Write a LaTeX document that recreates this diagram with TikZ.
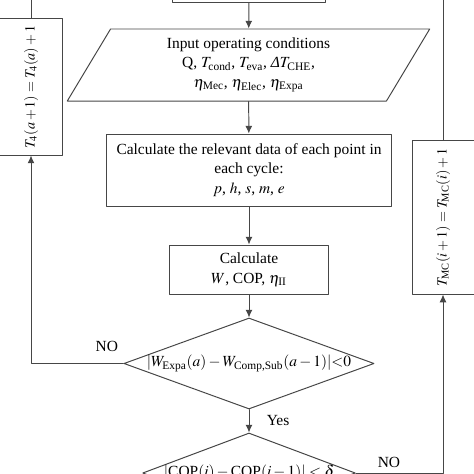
\documentclass[tikz,border=0pt]{standalone}
\usepackage{amsmath}
\usepackage{mathptmx}
\usepackage{fontspec}
\setmainfont{Liberation Serif}
\usetikzlibrary{arrows.meta, shapes.geometric}
\definecolor{linegray}{RGB}{70,70,70}

\begin{document}
\begin{tikzpicture}[x=0.025cm, y=-0.025cm, >={Latex[length=5.5pt,width=5pt]},
	line cap=round, line join=round, font=\fontsize{11}{14}\selectfont,
	flow/.style={draw=linegray, line width=0.7pt, ->},
	link/.style={draw=linegray, line width=0.7pt},
	procbox/.style={draw=linegray, line width=0.7pt, align=center, inner sep=0pt},
	iobox/.style={procbox, trapezium, trapezium left angle=65, trapezium right angle=115, trapezium stretches=true},
	testbox/.style={procbox, diamond, aspect=2.75}]
\useasboundingbox (0,0) rectangle (474,474);
%========================
% main column
%========================
\node[procbox, minimum width=3.8cm, minimum height=1.05cm] (start) at (249,-19) {};
\node[iobox, minimum width=9.075cm, minimum height=1.8cm] (input) at (248.5,65)
	{Input operating conditions\\
	Q, $T_{\text{cond}}$, $T_{\text{eva}}$, \textit{Δ}$T_{\text{CHE}}$,\\
	$\eta_{\text{Mec}}$, $\eta_{\text{Elec}}$, $\eta_{\text{Expa}}$};
\node[procbox, minimum width=7.1cm, minimum height=1.8cm] (calc) at (249,170)
	{Calculate the relevant data of each point in\\ each cycle:\\ $p$, $h$, $s$, $m$, $e$};
\node[procbox, minimum width=3.95cm, minimum height=1.225cm] (calcw) at (249,269.5)
	{Calculate\\ $W$, COP, $\eta_{\text{II}}$};
\node[testbox, minimum width=6.25cm, minimum height=2.275cm] (wcheck) at (249,363.5)
	{$|W_{\text{Expa}}(a) - W_{\text{Comp,Sub}}(a-1)|{<}0$};
\node[testbox, minimum width=4.375cm, minimum height=2cm] (copcheck) at (249,473)
	{$|\text{COP}(i) - \text{COP}(i-1)| < \delta$};

%========================
% loop counters
%========================
\node[procbox, minimum width=1.55cm, minimum height=3.4cm, font=\fontsize{10}{12}\selectfont] (tfour) at (31,87)
	{\rotatebox{90}{$T_4(a+1) = T_4(a) + 1$}};
\node[procbox, minimum width=1.55cm, minimum height=3.825cm, font=\fontsize{10}{12}\selectfont] (tmc) at (443,217.5)
	{\rotatebox{90}{$T_{\text{MC}}(i+1) = T_{\text{MC}}(i) + 1$}};
\coordinate (tfourtop) at (31,-10);
\coordinate (tmctop) at (443,-10);

% connectors
\draw[flow] (start) -- (input);
\draw[flow] (input) -- (calc);
\draw[flow] (calc) -- (calcw);
\draw[flow] (calcw) -- (wcheck);
\draw[flow] (wcheck) -- node[right, xshift=9pt] {Yes} (copcheck);
\draw[flow] (wcheck.west) -| node[pos=0.09, above=5pt] {NO} (tfour.south);
\draw[flow] (copcheck.east) -| node[pos=0.19, above] {NO} (tmc.south);
\draw[link] (tfour.north) -- (tfourtop);
\draw[link] (tmc.north) -- (tmctop);
\end{tikzpicture}
\end{document}
